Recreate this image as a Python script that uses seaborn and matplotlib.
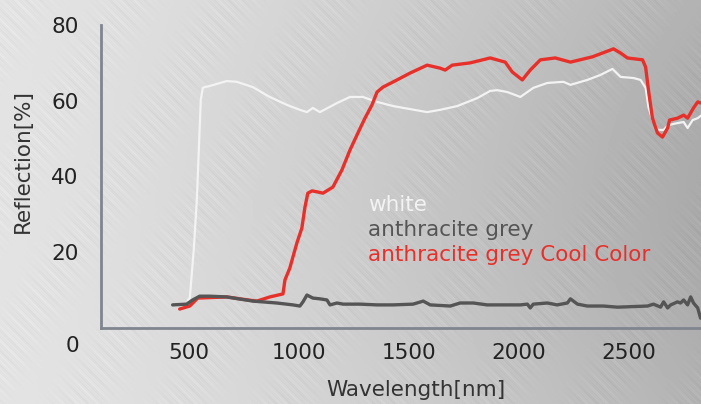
import numpy as np
import pandas as pd
import matplotlib
matplotlib.use("Agg")
import matplotlib.pyplot as plt
import matplotlib.transforms as mtransforms
import seaborn as sns

# reflection spectra
white_nm = [495, 504, 522, 536, 545, 554, 563, 572, 595, 672, 718, 791, 868, 946, 1005,
            1037, 1064, 1096, 1174, 1233, 1292, 1356, 1429, 1506, 1584, 1643, 1721, 1812, 1871, 1903,
            1949, 2008, 2067, 2131, 2204, 2236, 2313, 2372, 2427, 2464, 2523, 2555, 2578, 2591, 2609,
            2632, 2660, 2682, 2723, 2751, 2769, 2792, 2815, 2833]
white_pct = [7.4, 7.9, 20.6, 33.8, 47.0, 60.2, 63.4, 63.6, 63.9, 65.2, 65.0, 63.6, 61.0, 58.9, 57.6,
             57.0, 58.1, 57.0, 59.4, 61.0, 61.0, 59.7, 58.6, 57.8, 57.0, 57.6, 58.6, 60.7, 62.6, 62.8,
             62.3, 61.0, 63.4, 64.7, 65.0, 64.2, 65.5, 66.8, 68.4, 66.3, 66.0, 65.5, 63.4, 58.3, 54.9,
             52.3, 52.3, 53.6, 54.1, 54.4, 52.8, 54.9, 55.4, 56.2]

grey_nm = [426, 490, 517, 549, 595, 672, 791, 900, 973, 1005, 1019, 1037, 1064, 1096, 1128,
           1142, 1174, 1201, 1278, 1356, 1429, 1520, 1566, 1598, 1689, 1734, 1794, 1857, 2008, 2040,
           2053, 2067, 2131, 2176, 2222, 2236, 2268, 2313, 2386, 2450, 2587, 2614, 2646, 2660, 2678,
           2692, 2723, 2737, 2751, 2769, 2783, 2796, 2815, 2828]
grey_pct = [6.1, 6.3, 7.4, 8.4, 8.4, 8.2, 7.1, 6.6, 6.1, 5.8, 6.9, 8.7, 7.9, 7.7, 7.4,
            6.1, 6.6, 6.3, 6.3, 6.1, 6.1, 6.3, 7.1, 6.1, 5.8, 6.6, 6.6, 6.1, 6.1, 6.3,
            5.3, 6.3, 6.6, 6.1, 6.6, 7.7, 6.3, 5.8, 5.8, 5.5, 5.8, 6.3, 5.5, 6.9, 5.3,
            6.1, 6.9, 6.6, 7.4, 6.1, 8.2, 6.6, 5.3, 2.6]

cool_nm = [458, 504, 540, 672, 732, 809, 868, 928, 937, 959, 991, 1014, 1028, 1041, 1060,
           1087, 1110, 1155, 1196, 1233, 1265, 1301, 1333, 1356, 1383, 1447, 1506, 1584, 1643, 1666,
           1698, 1780, 1871, 1939, 1971, 2017, 2053, 2099, 2167, 2236, 2336, 2432, 2464, 2495, 2564,
           2578, 2591, 2609, 2632, 2655, 2678, 2687, 2723, 2751, 2769, 2783, 2796, 2815, 2828]
cool_pct = [5.0, 5.8, 7.9, 8.2, 7.7, 7.1, 8.2, 9.0, 12.7, 15.8, 22.4, 26.4, 31.9, 35.6, 36.2,
            35.9, 35.6, 37.2, 41.7, 47.0, 51.0, 55.4, 58.9, 62.3, 63.6, 65.5, 67.3, 69.4, 68.6, 68.1,
            69.4, 70.0, 71.3, 70.2, 67.6, 65.5, 68.1, 70.8, 71.3, 70.2, 71.6, 73.7, 72.6, 71.3, 70.8,
            68.9, 62.8, 55.4, 51.5, 50.4, 52.8, 54.9, 55.4, 56.2, 55.4, 56.8, 58.1, 59.7, 59.4]

series_names = ["white", "anthracite grey", "anthracite grey Cool Color"]
series_colors = ["#f3f3f3", "#555555", "#e8302a"]
x_ticks = [500, 1000, 1500, 2000, 2500]
y_ticks = [0, 20, 40, 60, 80]

df = pd.concat([
    pd.DataFrame({"nm": white_nm, "pct": white_pct, "sample": series_names[0]}),
    pd.DataFrame({"nm": grey_nm, "pct": grey_pct, "sample": series_names[1]}),
    pd.DataFrame({"nm": cool_nm, "pct": cool_pct, "sample": series_names[2]}),
], ignore_index=True)

sns.set_style("white")
plt.rcParams["font.family"] = ["DejaVu Sans"]

fig = plt.figure(figsize=(7.01, 4.04), dpi=100)

# brushed metal backdrop: light on the left, darker towards the right, diagonal streaks
bg = fig.add_axes([0, 0, 1, 1])
h, w = 404, 701
yy, xx = np.mgrid[0:h, 0:w]
xn, yn = xx / w, yy / h
shade = 0.89 - 0.19 * xn ** 1.4 - 0.035 * np.sin(np.pi * yn) * xn
u = xx - yy
streak = (0.012 * np.sin(u * 0.9) + 0.010 * np.sin(u * 2.3 + 1.0) + 0.010 * np.sin(u * 0.37 + 2.0))
streak *= 0.5 + 0.5 * np.sin((xx + yy) * 0.05 + u * 0.011)
img = np.clip(shade + streak, 0, 1)
bg.imshow(img, cmap="gray", vmin=0, vmax=1, aspect="auto", interpolation="bilinear")
bg.set_axis_off()

ax = fig.add_axes([101 / 701, 76 / 404, 600 / 701, 303 / 404])
ax.patch.set_alpha(0)
sns.lineplot(data=df, x="nm", y="pct", hue="sample", hue_order=series_names,
             palette=series_colors, sort=False, estimator=None, ax=ax)
for line, lw, z in zip(ax.lines, [1.6, 2.4, 2.4], [2, 4, 3]):
    line.set_linewidth(lw)
    line.set_zorder(z)

ax.set_xlim(100, 2830)
ax.set_ylim(0, 80)
ax.set_xticks(x_ticks)
ax.set_yticks(y_ticks)
ax.tick_params(axis="both", length=0, labelsize=15.5, labelcolor="#222222")
ax.tick_params(axis="y", pad=16)
ax.tick_params(axis="x", pad=11)
sns.despine(ax=ax)
for side in ["left", "bottom"]:
    ax.spines[side].set_color("#80858e")
    ax.spines[side].set_linewidth(2)

# the zero label sits below the axis line
zero = ax.get_yticklabels()[0]
zero.set_transform(zero.get_transform() + mtransforms.ScaledTranslation(0, -0.16, fig.dpi_scale_trans))

ax.set_xlabel("Wavelength[nm]", fontsize=15.5, color="#333333")
ax.set_ylabel("Reflection[%]", fontsize=15.5, color="#333333")
ax.xaxis.set_label_coords(0.525, -0.172)
ax.yaxis.set_label_coords(-0.113, 0.55)

handles, labels = ax.get_legend_handles_labels()
leg = ax.legend(handles, labels, loc="upper left", bbox_to_anchor=(0.445, 0.438),
                frameon=False, handlelength=0, handletextpad=0, borderpad=0,
                borderaxespad=0, labelspacing=0.22, fontsize=15.5, labelcolor="linecolor")
for hnd in leg.legend_handles:
    hnd.set_visible(False)

fig.savefig("out.png", dpi=100)
